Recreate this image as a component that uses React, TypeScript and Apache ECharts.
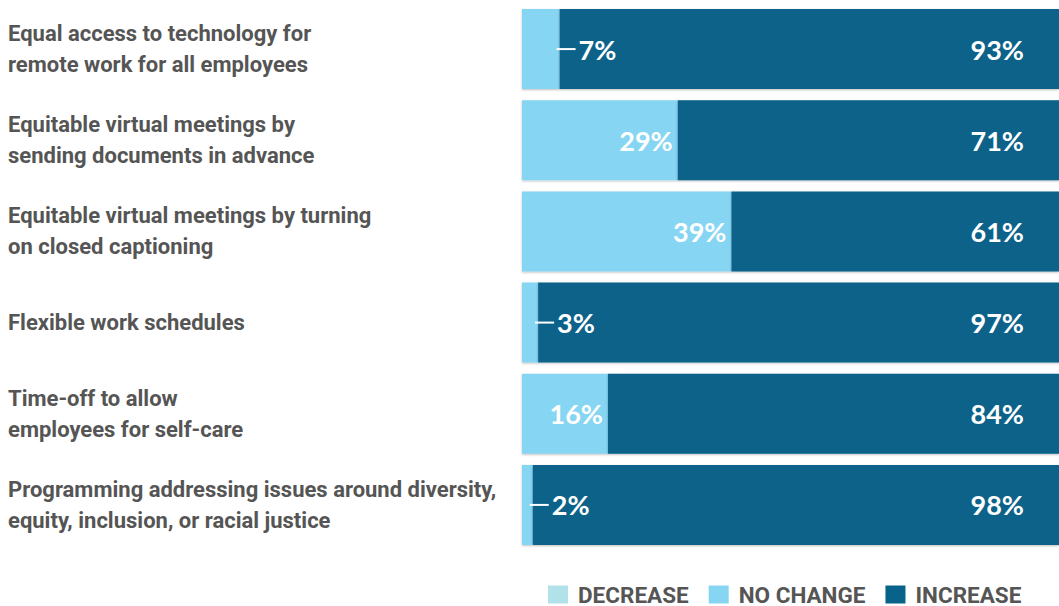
import React, { useEffect, useRef } from "react";
import * as echarts from "echarts";

const categories = [
  "Equal access to technology for\nremote work for all employees",
  "Equitable virtual meetings by\nsending documents in advance",
  "Equitable virtual meetings by turning\non closed captioning",
  "Flexible work schedules",
  "Time-off to allow\nemployees for self-care",
  "Programming addressing issues around diversity,\nequity, inclusion, or racial justice",
];
const decreaseValues = [0, 0, 0, 0, 0, 0];
const noChangeValues = [7, 29, 39, 3, 16, 2];
const increaseValues = [93, 71, 61, 97, 84, 98];
const seriesNames = ["DECREASE", "NO CHANGE", "INCREASE"];
const colors = ["#b2e2e9", "#86d5f3", "#08628a"];

export default function App() {
  const ref = useRef<HTMLDivElement>(null);
  useEffect(() => {
    if (!ref.current) return;
    const chart = echarts.init(ref.current, undefined, { renderer: "svg" });
    const pctFont = {
      color: "#ffffff",
      fontFamily: "Lato",
      fontWeight: "bold" as const,
      fontSize: 27,
    };
    const barShadow = {
      shadowColor: "rgba(0,0,0,0.25)",
      shadowBlur: 2,
      shadowOffsetY: 1,
    };
    const noChangeData = noChangeValues.map((v) => {
      if (v < 10) {
        return {
          value: v,
          label: {
            show: true,
            position: "right",
            distance: -3,
            formatter: "{d| }{g| }{v|" + v + "%}",
            rich: {
              d: {
                width: 19,
                height: 2,
                backgroundColor: "#ffffff",
                fontSize: 2,
                lineHeight: 2,
                verticalAlign: "middle",
              },
              g: { width: 3, fontSize: 10 },
              v: pctFont,
            },
          },
        };
      }
      return {
        value: v,
        label: {
          show: true,
          position: "insideRight",
          distance: 5,
          formatter: v + "%",
          ...pctFont,
        },
      };
    });
    chart.setOption({
      animation: false,
      grid: { left: 522, width: 541, top: 3.5, height: 547, containLabel: false },
      xAxis: { type: "value", min: 0, max: 100, show: false },
      yAxis: {
        type: "category",
        inverse: true,
        data: categories,
        axisLine: { show: false },
        axisTick: { show: false },
        axisLabel: {
          align: "left",
          margin: 514,
          color: "#555555",
          fontFamily: "Roboto",
          fontWeight: "bold",
          fontSize: 22,
          lineHeight: 31,
          padding: [0, 0, 10, 0],
        },
      },
      legend: {
        left: 543,
        top: 578,
        icon: "path://M0,0L20,0L20,18L0,18Z M25,0L25,18",
        itemWidth: 25,
        itemHeight: 18,
        itemGap: 20,
        data: seriesNames,
        textStyle: {
          color: "#555555",
          fontFamily: "Roboto",
          fontWeight: "bold",
          fontSize: 22.5,
        },
      },
      series: [
        {
          name: seriesNames[0],
          type: "bar",
          stack: "total",
          barWidth: 80,
          data: decreaseValues,
          itemStyle: { color: colors[0] },
        },
        {
          name: seriesNames[1],
          type: "bar",
          stack: "total",
          barWidth: 80,
          data: noChangeData,
          itemStyle: { color: colors[1], ...barShadow },
        },
        {
          name: seriesNames[2],
          type: "bar",
          stack: "total",
          barWidth: 80,
          data: increaseValues,
          itemStyle: { color: colors[2], ...barShadow },
          label: {
            show: true,
            position: "insideRight",
            distance: 35,
            formatter: "{c}%",
            ...pctFont,
          },
        },
      ],
    });
    return () => chart.dispose();
  }, []);
  return (
    <div
      ref={ref}
      style={{ position: "fixed", left: 0, top: 0, width: 1059, height: 606, background: "#ffffff" }}
    />
  );
}
